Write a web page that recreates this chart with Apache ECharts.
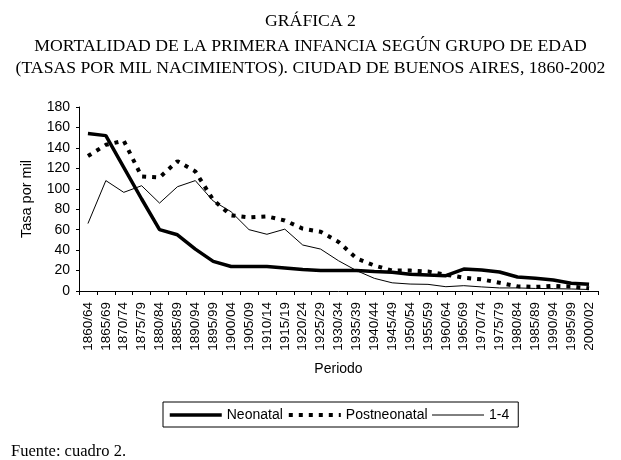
<!DOCTYPE html>
<html><head><meta charset="utf-8">
<script src="https://cdn.jsdelivr.net/npm/echarts@6/dist/echarts.min.js"></script>
<style>html,body{margin:0;padding:0;background:#fff}#c{width:621px;height:460px}</style>
</head><body><div id="c"></div>
<script>
const periods = ["1860/64","1865/69","1870/74","1875/79","1880/84","1885/89","1890/94","1895/99","1900/04","1905/09","1910/14","1915/19","1920/24","1925/29","1930/34","1935/39","1940/44","1945/49","1950/54","1955/59","1960/64","1965/69","1970/74","1975/79","1980/84","1985/89","1990/94","1995/99","2000/02"];
const neonatal = [154,152,121,90,60,55,41,29,24,24,24,22.5,21,20,20,20,19,18.3,16.3,15.6,15,21.5,20.5,18.6,13.7,12.4,10.8,7.5,6.5];
const postneonatal = [132,143,147,112,111,127,117,89,74,72,73,69,61,58,48,32,25,20,20,19,16,13,11.4,8,4.6,4,5,4.4,2.6];
const age1to4 = [66,108,96.5,103,86,102,108,88,77.5,60,55.5,60.5,45,41,29.6,20,12.4,8,6.8,6.5,4.2,5.2,4,3,3,2.5,2.3,2,1.5];
const yTicks = {min:0, max:180, interval:20};

const chart = echarts.init(document.getElementById('c'));
const serif = '"Liberation Serif","Times New Roman",serif';
const sans = '"Liberation Sans",Arial,sans-serif';
const tStyle = {fontFamily:serif,fontSize:17.7,fontWeight:'normal',color:'#000'};
const hiddenSym = {opacity:0, borderWidth:0};
chart.setOption({
  animation:false,
  backgroundColor:'#fff',
  title:[
    {text:'GRÁFICA 2', left:'center', top:7, textStyle:tStyle},
    {text:'MORTALIDAD DE LA PRIMERA INFANCIA SEGÚN GRUPO DE EDAD', left:'center', top:32.5, textStyle:tStyle},
    {text:'(TASAS POR MIL NACIMIENTOS). CIUDAD DE BUENOS AIRES, 1860-2002', left:'center', top:54, textStyle:tStyle},
    {text:'Fuente: cuadro 2.', left:6, top:438, textStyle:{fontFamily:serif,fontSize:16.5,fontWeight:'normal',color:'#000'}}
  ],
  legend:{
    left:163, top:402,
    orient:'horizontal',
    data:[
      {name:'Neonatal', itemStyle:hiddenSym, lineStyle:{width:3.5,color:'#000',type:'solid'}},
      {name:'Postneonatal', itemStyle:hiddenSym, lineStyle:{width:4,color:'#000',type:[4,6]}},
      {name:'1-4', itemStyle:hiddenSym, lineStyle:{width:1,color:'#000',type:'solid'}}
    ],
    itemWidth:52, itemHeight:14, itemGap:4,
    padding:[6,9,5,5],
    borderColor:'#000', borderWidth:1, borderRadius:0,
    textStyle:{fontFamily:sans,fontSize:14,color:'#000'}
  },
  grid:{left:79, right:23, top:107, bottom:169, containLabel:false},
  xAxis:{
    type:'category', data:periods, boundaryGap:true,
    name:'Periodo', nameLocation:'middle', nameGap:71,
    nameTextStyle:{fontFamily:sans,fontSize:14,color:'#000'},
    axisLine:{lineStyle:{color:'#000',width:1}},
    axisTick:{show:true,length:4,lineStyle:{color:'#000'}},
    axisLabel:{rotate:90,interval:0,fontFamily:sans,fontSize:13.5,color:'#000',margin:11},
    splitLine:{show:false}
  },
  yAxis:{
    type:'value', min:yTicks.min, max:yTicks.max, interval:yTicks.interval,
    name:'Tasa por mil', nameLocation:'middle', nameGap:45,
    nameTextStyle:{fontFamily:sans,fontSize:14.5,color:'#000'},
    axisLine:{show:true,lineStyle:{color:'#000',width:1}},
    axisTick:{show:true,length:3,lineStyle:{color:'#000'}},
    axisLabel:{fontFamily:sans,fontSize:14,color:'#000',margin:9},
    splitLine:{show:false}
  },
  series:[
    {name:'Neonatal', type:'line', data:neonatal, symbol:'none', z:3,
     lineStyle:{color:'#000',width:3.5}, itemStyle:{color:'#000'}},
    {name:'Postneonatal', type:'line', data:postneonatal, symbol:'none', z:2,
     lineStyle:{color:'#000',width:4,type:[4,6]}, itemStyle:{color:'#000'}},
    {name:'1-4', type:'line', data:age1to4, symbol:'none', z:1,
     lineStyle:{color:'#000',width:1}, itemStyle:{color:'#000'}}
  ]
});
</script></body></html>
